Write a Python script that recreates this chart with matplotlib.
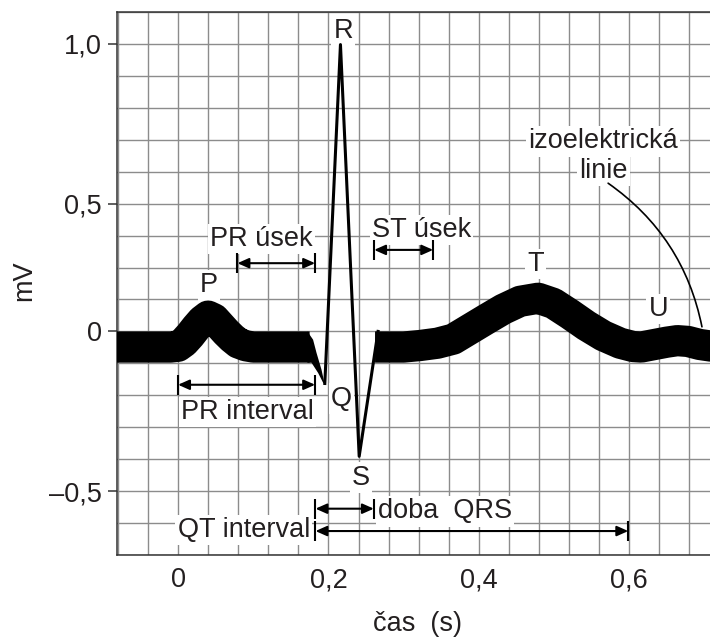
import numpy as np
import matplotlib
matplotlib.use('Agg')
import matplotlib.pyplot as plt
from matplotlib.ticker import MultipleLocator
from matplotlib.transforms import offset_copy

plt.rcParams['font.family'] = ['Liberation Sans', 'DejaVu Sans']

# ECG trace: time in s, voltage in mV (read at the upper edge of the thick pen)
band1_t = [-0.10, -0.01, 0.000, 0.008, 0.016, 0.024, 0.032, 0.040, 0.048, 0.056, 0.064, 0.072, 0.080, 0.090, 0.100, 0.175]
band1_mv = [0.0, 0.0, 0.003, 0.020, 0.046, 0.076, 0.103, 0.121, 0.110, 0.084, 0.058, 0.035, 0.016, 0.005, 0.0, 0.0]

band2_t = [0.262, 0.300, 0.322, 0.345, 0.366, 0.388, 0.410, 0.4325, 0.455, 0.479, 0.499, 0.521,
           0.543, 0.5655, 0.588, 0.605, 0.616, 0.632, 0.650, 0.664, 0.678, 0.694, 0.708, 0.730]
band2_mv = [0.0, 0.0, 0.006, 0.015, 0.031, 0.070, 0.109, 0.148, 0.179, 0.191, 0.171, 0.129,
            0.084, 0.044, 0.015, 0.002, 0.0, 0.009, 0.019, 0.025, 0.022, 0.010, 0.004, 0.0]

# QRS complex, drawn with a thin pen
qrs_t = [0.1952, 0.216, 0.2409, 0.266]
qrs_mv = [-0.163, 0.998, -0.391, 0.0]

# where the thick pen narrows down into Q
taper_t = [0.172, 0.1796, 0.1842, 0.1908, 0.1952, 0.1930, 0.1863, 0.1775, 0.172]
taper_mv = [0.0, -0.026, -0.0675, -0.120, -0.167, -0.161, -0.130, -0.098, -0.098]

wave_names = ['P', 'Q', 'R', 'S', 'T', 'U']
wave_t = [0.0411, 0.2174, 0.2196, 0.2431, 0.476, 0.6387]
wave_mv = [0.192, -0.201, 1.051, -0.448, 0.276, 0.100]

span_names = ['PR úsek', 'ST úsek', 'PR interval', 'doba  QRS', 'QT interval']
span_start = [0.079, 0.2608, 0.0, 0.1828, 0.1828]
span_end = [0.1823, 0.3393, 0.1823, 0.2604, 0.5988]
span_mv = [0.267, 0.319, -0.167, -0.555, -0.625]
span_label_t = [0.1107, 0.3239, 0.0926, 0.3553, 0.0874]
span_label_mv = [0.374, 0.409, -0.243, -0.554, -0.612]

xtick_vals = [0, 0.2, 0.4, 0.6]
xtick_labels = ['0', '0,2', '0,4', '0,6']
ytick_vals = [-0.5, 0, 0.5, 1.0]
ytick_labels = ['–0,5', '0', '0,5', '1,0']

# the printed axis is not linear: 0..0.5 mV covers 4 grid squares, the other halves 5
mv_knots = [-2.0, -0.5, 0.0, 0.5, 1.0, 2.0]
cell_knots = [-20, -5, 0, 4, 9, 19]


def to_cells(v):
    return np.interp(v, mv_knots, cell_knots)


def from_cells(c):
    return np.interp(c, cell_knots, mv_knots)


ink = '#231f20'
fs = 19.5
white_box = dict(boxstyle='square,pad=0.08', fc='white', ec='none')

fig = plt.figure(figsize=(7.1, 6.37), dpi=100)
ax = fig.add_axes([117.3 / 710, 82 / 637, 592.7 / 710, 543 / 637])
ax.set_yscale('function', functions=(to_cells, from_cells))
ax.set_xlim(-0.0808, 0.7075)
ax.set_ylim(-0.7, 1.1)

# millimetre-paper style grid: 0.04 s by one square
ax.xaxis.set_minor_locator(MultipleLocator(0.04))
ax.set_yticks(from_cells(np.arange(-7, 11)), minor=True)
ax.grid(which='both', color='#8c8c8c', lw=1.0)
ax.set_axisbelow(True)

ax.set_xticks(xtick_vals)
ax.set_xticklabels(xtick_labels)
ax.set_yticks(ytick_vals)
ax.set_yticklabels(ytick_labels)
ax.tick_params(which='minor', length=0)
ax.tick_params(axis='x', which='major', length=0, pad=8.9, labelsize=fs, labelcolor=ink)
ax.tick_params(axis='y', which='major', length=6.5, width=1.1, pad=4.7, labelsize=fs,
               labelcolor=ink, color='#333333')
for s in ['left', 'bottom', 'top']:
    ax.spines[s].set_color('#333333')
    ax.spines[s].set_linewidth(1.1)
ax.spines['right'].set_visible(False)

# thick pen for the isoelectric parts, hanging below the read values
pen = 22.5
shifted = offset_copy(ax.transData, fig=fig, y=-pen / 2, units='points')
for tt, vv in [(band1_t, band1_mv), (band2_t, band2_mv)]:
    ax.plot(tt, vv, color='black', lw=pen, solid_capstyle='butt', solid_joinstyle='round',
            transform=shifted, zorder=4)
ax.fill(taper_t, taper_mv, color='black', lw=0, zorder=4)
ax.plot(qrs_t, qrs_mv, color='black', lw=2.2, solid_joinstyle='round', zorder=4)

for name, t, v in zip(wave_names, wave_t, wave_mv):
    ax.text(t, v, name, ha='center', va='center_baseline', fontsize=fs, color=ink,
            bbox=white_box, zorder=3)

for i in range(len(span_names)):
    y = span_mv[i]
    ax.annotate('', xy=(span_end[i], y), xytext=(span_start[i], y),
                arrowprops=dict(arrowstyle='<|-|>,head_length=0.45,head_width=0.2', mutation_scale=15,
                                lw=1.5, color='black', shrinkA=0, shrinkB=0), zorder=5)
    ax.plot([span_start[i], span_end[i]], [y, y], ls='none', marker='|', ms=14, mew=1.5,
            color='black', zorder=5)
    ax.text(span_label_t[i], span_label_mv[i], span_names[i], ha='center', va='center_baseline',
            fontsize=fs, color=ink, bbox=white_box, zorder=3)

ax.text(0.565, 0.704, 'izoelektrická', ha='center', va='center_baseline', fontsize=fs,
        color=ink, bbox=white_box, zorder=3)
ax.text(0.5655, 0.611, 'linie', ha='center', va='center_baseline', fontsize=fs,
        color=ink, bbox=white_box, zorder=3)
ax.annotate('', xy=(0.6968, 0.018), xytext=(0.572, 0.564),
            arrowprops=dict(arrowstyle='-', connectionstyle='arc3,rad=-0.2', lw=1.2,
                            color='black', shrinkA=0, shrinkB=0), zorder=5)

ax.set_xlabel('čas  (s)', fontsize=fs, color=ink)
ax.xaxis.set_label_coords(0.5065, -0.140)
ax.xaxis.label.set_va('baseline')
ax.set_ylabel('mV', fontsize=fs, color=ink)
ax.yaxis.set_label_coords(-0.1348, 0.5046)

fig.savefig('out.png', dpi=100)
